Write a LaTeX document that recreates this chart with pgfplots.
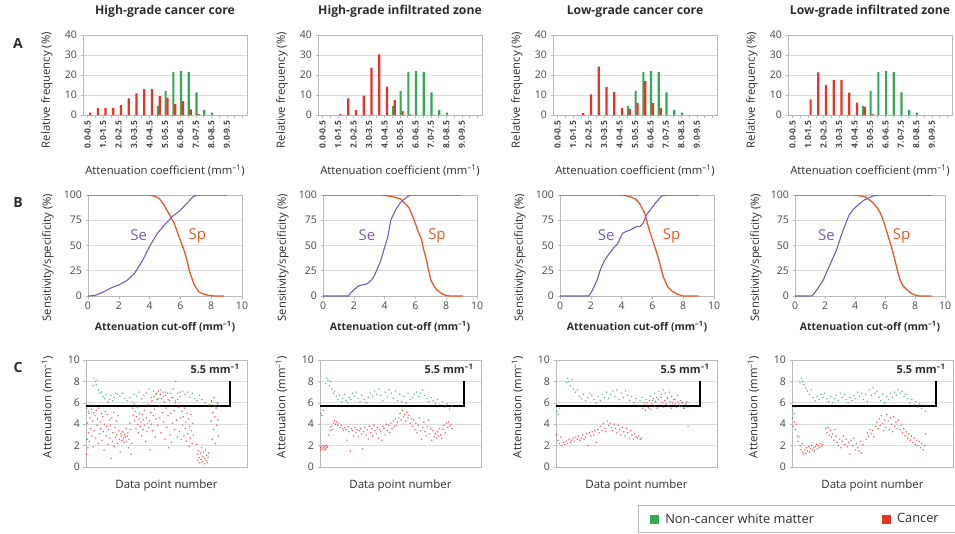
\documentclass[border=0pt]{standalone}
\usepackage{pgfplots}
\pgfplotsset{compat=1.18}
\usepackage{fontspec}
\setmainfont{Open Sans}
\definecolor{cgreen}{RGB}{52,168,83}
\definecolor{cred}{RGB}{232,50,40}
\definecolor{cse}{RGB}{118,92,190}
\definecolor{csp}{RGB}{232,88,40}
\definecolor{gridc}{RGB}{220,220,220}
\definecolor{framec}{RGB}{185,185,185}
\definecolor{tickc}{RGB}{70,70,70}
\definecolor{labc}{RGB}{45,45,45}
\pgfplotsset{
 base/.style={scale only axis, anchor=north west,
   /pgf/number format/assume math mode=true,
   axis line style={framec, line width=0.7pt},
   ymajorgrids, major grid style={gridc, line width=0.7pt},
   tick style={framec, line width=0.6pt}, tick align=outside, major tick length=2.5pt,
   xtick pos=bottom, ytick pos=left,
   tick label style={font=\fontsize{10.5}{11}\selectfont, color=tickc},
   label style={font=\fontsize{11.3}{12}\selectfont, color=labc},
   title style={font=\fontsize{12.2}{13}\selectfont\bfseries, color=labc}},
 rowA/.style={base, width=164pt, height=80pt, xmin=-0.6, xmax=20.6, ymin=0, ymax=40,
   ytick={0,10,20,30,40}, xtick={0,...,20},
   xticklabels={0.0-0.5,{},1.0-1.5,{},2.0-2.5,{},3.0-3.5,{},4.0-4.5,{},5.0-5.5,{},6.0-6.5,{},7.0-7.5,{},8.0-8.5,{},9.0-9.5,{},{}},
   xticklabel style={rotate=90, anchor=east, font=\fontsize{8.5}{9}\selectfont\bfseries},
   ylabel={Relative frequency (\%)},
   xlabel={Attenuation coefficient (mm\textsuperscript{–1})},
   ylabel style={at={(axis description cs:-0.22,0.31)}, anchor=center},
   xlabel style={at={(axis description cs:0.5,-0.69)}, anchor=center},
   title style={at={(axis description cs:0.5,1.225)}, anchor=center}},
 rowB/.style={base, width=154pt, height=101pt, xmin=0, xmax=10, ymin=0, ymax=100,
   ytick={0,25,50,75,100}, xtick={0,2,...,10},
   ylabel={Sensitivity/specificity (\%)},
   xlabel={\bfseries Attenuation cut-off (mm\textsuperscript{–1})},
   ylabel style={at={(axis description cs:-0.26,0.38)}, anchor=center},
   xlabel style={at={(axis description cs:0.5,-0.30)}, anchor=center, font=\fontsize{10.5}{11}\selectfont}},
 rowC/.style={base, width=161pt, height=107pt, xmin=0, xmax=100, ymin=0, ymax=10,
   ytick={0,2,...,10}, xtick=\empty,
   ylabel={Attenuation (mm\textsuperscript{–1})},
   xlabel={Data point number},
   ylabel style={at={(axis description cs:-0.24,0.56)}, anchor=center},
   xlabel style={at={(axis description cs:0.5,-0.17)}, anchor=center, font=\fontsize{11.5}{12}\selectfont}},
 gbar/.style={ybar, bar width=2.2pt, bar shift=0pt, fill=cgreen, draw=none},
 rbar/.style={ybar, bar width=2.2pt, bar shift=0pt, fill=cred, draw=none},
 seline/.style={cse, line width=1.1pt},
 spline/.style={csp, line width=1.3pt},
 gpts/.style={only marks, mark=*, mark size=0.85pt, cgreen, mark options={draw opacity=0, fill opacity=0.75}, forget plot},
 rpts/.style={only marks, mark=*, mark size=0.85pt, cred, mark options={draw opacity=0, fill opacity=0.75}, forget plot},
 cut/.style={black, line width=2.5pt, forget plot},
}
\newcommand{\greenbars}{\addplot[gbar] coordinates {(9.08,4.5) (10.08,12) (11.08,21.5) (12.08,22) (13.08,21.5) (14.08,11.3) (15.08,2.5) (16.08,1.2)};}
\newcommand{\cutlabel}{\node[anchor=east, font=\fontsize{11}{12}\selectfont\bfseries, color=labc] at (axis cs:97.5,9.2) {5.5 mm\textsuperscript{–1}};}
\newcommand{\sesp}[2]{\node[color=cse, font=\fontsize{15}{16}\selectfont] at (axis cs:#1,60) {Se};
\node[color=csp, font=\fontsize{15}{16}\selectfont] at (axis cs:#2,60) {Sp};}
\begin{document}
\begin{tikzpicture}
\useasboundingbox (0pt,0pt) rectangle (955pt,-533pt);
\node[font=\fontsize{14}{15}\selectfont\bfseries, color=labc] at (18pt,-43pt) {A};
\node[font=\fontsize{14}{15}\selectfont\bfseries, color=labc] at (18pt,-202pt) {B};
\node[font=\fontsize{14}{15}\selectfont\bfseries, color=labc] at (18pt,-367pt) {C};

% ---------------- Row A ----------------
\begin{axis}[rowA, at={(83pt,-35pt)}, title={High-grade cancer core}]
\greenbars
\addplot[rbar] coordinates {(0.32,1.2) (1.32,3.5) (2.32,3.5) (3.32,3.5) (4.32,5) (5.32,8.3) (6.32,10.8) (7.32,13) (8.32,13) (9.32,9.5) (10.32,8.7) (11.32,5.5) (12.32,7) (13.32,2.8) (14.32,0.5)};
\end{axis}
\begin{axis}[rowA, at={(318pt,-35pt)}, title={High-grade infiltrated zone}]
\greenbars
\addplot[rbar] coordinates {(2.32,0.5) (3.32,8.3) (4.32,2.5) (5.32,9.7) (6.32,23.7) (7.32,30.3) (8.32,14.2) (9.32,7.5) (10.32,2) (11.32,0.3)};
\end{axis}
\begin{axis}[rowA, at={(553pt,-35pt)}, title={Low-grade cancer core}]
\greenbars
\addplot[rbar] coordinates {(3.32,1) (4.32,10.3) (5.32,24.2) (6.32,14) (7.32,11.5) (8.32,3.5) (9.32,3) (10.32,6) (11.32,17) (12.32,6) (13.32,3.5)};
\end{axis}
\begin{axis}[rowA, at={(788pt,-35pt)}, title={Low-grade infiltrated zone}]
\greenbars
\addplot[rbar] coordinates {(2.32,7.8) (3.32,21.3) (4.32,15) (5.32,17.5) (6.32,17.5) (7.32,11.2) (8.32,6.2) (9.32,4.2) (10.32,0.5)};
\end{axis}

% ---------------- Row B ----------------
\begin{axis}[rowB, at={(88pt,-195pt)}]
\addplot[spline] coordinates {(0,100) (3.9,100) (4.3,99) (4.6,97) (4.9,91) (5.2,83) (5.6,72) (5.95,57) (6.2,47) (6.4,37) (6.6,24) (6.9,11) (7.2,4) (7.5,2) (7.8,0.7) (8.2,0) (8.8,0)};
\addplot[seline] coordinates {(0,0) (0.3,0.3) (0.5,0.8) (1.0,4) (1.5,8) (2.0,11) (2.5,15) (3.0,22) (3.5,34) (4.0,49) (4.5,62) (5.0,71) (5.5,79) (6.0,85) (6.5,93) (6.8,98) (7.1,100) (9,100)};
\sesp{3.3}{7.1}
\end{axis}
\begin{axis}[rowB, at={(323pt,-195pt)}]
\addplot[spline] coordinates {(0,100) (3.75,100) (4.3,99) (4.6,98) (5.05,96) (5.3,92) (5.6,87) (5.9,76) (6.15,65) (6.4,56) (6.55,45) (6.7,37) (6.85,26) (7.0,16) (7.2,10) (7.4,6) (7.7,2.5) (7.9,1) (8.2,0) (9.1,0)};
\addplot[seline] coordinates {(0,0) (1.65,0) (1.8,3) (2.0,6) (2.3,10) (2.85,12) (3.1,15) (3.3,19) (3.5,26) (3.75,35) (4.0,48) (4.2,58) (4.4,75) (4.7,85) (5.0,92) (5.2,95) (5.5,98.5) (5.7,100) (9,100)};
\sesp{2.85}{7.4}
\end{axis}
\begin{axis}[rowB, at={(560pt,-195pt)}]
\addplot[spline] coordinates {(0,100) (3.85,100) (4.3,99.3) (4.6,98) (4.9,96) (5.15,92) (5.5,82) (5.8,65) (6.15,49) (6.4,37) (6.7,19) (7.0,9) (7.3,4.5) (7.6,2) (8.0,0) (9,0)};
\addplot[seline] coordinates {(0,0) (1.87,0) (2.1,5.6) (2.4,15.5) (2.6,25) (2.85,34) (3.1,40) (3.3,44) (3.5,48) (3.75,52) (4.05,62) (4.3,64) (4.5,65) (4.95,68.5) (5.2,69) (5.4,72) (5.6,80) (5.95,87) (6.25,93) (6.6,99) (6.9,100) (9,100)};
\sesp{3.0}{7.25}
\end{axis}
\begin{axis}[rowB, at={(795pt,-195pt)}, width=150pt]
\addplot[spline] coordinates {(0,100) (3.85,100) (4.4,99) (4.7,98) (5.15,93) (5.45,88) (5.7,82) (5.95,72) (6.15,62) (6.4,50) (6.6,39) (6.8,27) (7.0,16) (7.2,10) (7.4,7) (7.7,3) (8.0,1) (8.3,0) (9.1,0)};
\addplot[seline] coordinates {(0,0) (1.1,0) (1.25,2) (1.43,5.6) (1.87,15.5) (2.3,30) (2.75,45) (3.2,65) (3.6,80) (3.9,86) (4.2,90) (4.6,95) (5.2,99) (5.6,100) (9.1,100)};
\sesp{2.1}{7.1}
\end{axis}

% ---------------- Row C ----------------
\begin{axis}[rowC, at={(86pt,-360pt)}]
\addplot[gpts] coordinates {(0.5,5.5) (1.5,5.2) (2.5,5.8) (4.5,7.6) (5.2,8.3) (5.8,8.0) (6.4,7.7) (7.0,8.1) (7.8,7.2) (8.6,6.9) (9.5,7.0) (10.5,6.6) (11.5,6.4) (12.5,6.8) (13.5,6.1) (14.5,6.3) (15.5,6.7) (16.5,6.2) (17.5,6.5) (18.5,6.9) (19.5,6.8) (21,6.6) (22.5,6.9) (24,6.4) (25.5,6.2) (27,6.5) (28.5,6.1) (30,6.8) (31.5,6.6) (33,7.0) (34.5,6.4) (36,6.7) (37.5,6.9) (39,7.3) (40.5,6.5) (42,7.1) (43.5,6.8) (45,6.4) (46.5,7.2) (48,6.6) (49.5,7.0) (51,6.3) (52.5,6.9) (54,6.5) (55.5,6.2) (57,6.9) (58.5,6.6) (60,7.1) (61.5,6.8) (63,7.0) (64.5,6.5) (66,6.9) (67.5,6.4) (69,6.2) (70.5,6.7) (72,6.3) (74,6.0) (76,5.8) (78,6.1) (80,5.7) (82,5.9)};
\addplot[rpts] coordinates {(0.3,1.2) (0.6,2.6) (0.9,4.1) (1.2,1.8) (1.5,3.2) (1.9,5.0) (2.2,2.4) (2.6,4.6) (3.0,3.6) (3.3,5.4) (3.7,2.9) (4.1,4.3) (4.5,1.9) (4.8,5.1)
(5.2,3.4) (5.6,4.8) (6.0,2.7) (6.4,5.3) (6.8,3.9) (7.2,4.5) (7.6,2.2) (8.0,5.5) (8.4,3.1) (8.8,4.2) (9.2,3.6) (9.6,5.0) (10.0,2.5) (10.4,4.7) (10.8,3.3) (11.2,1.6) (11.6,4.0) (12.0,5.2) (12.4,2.9) (12.8,3.8) (13.2,4.9) (13.6,2.1) (14.0,3.5) (14.4,4.4) (14.8,2.7)
(15.2,3.9) (15.6,0.8) (16.0,4.6) (16.4,2.4) (16.8,3.2) (17.2,5.1) (17.6,1.9) (18.0,3.7) (18.4,2.8) (18.8,4.3) (19.2,3.0) (19.6,2.2) (20.0,4.8) (20.4,3.4) (20.8,2.6) (21.2,1.4) (21.6,3.1) (22.0,2.9) (22.4,2.5) (22.8,3.3) (23.2,2.7) (23.6,2.3) (24.0,3.0) (24.4,2.8) (24.8,3.6) (25.2,2.4) (25.6,2.9) (26.0,3.2) (26.4,1.8) (26.8,2.6) (27.2,4.1) (27.6,3.5) (28.0,1.2) (28.4,2.2)
(29.0,5.5) (29.4,4.8) (29.8,5.9) (30.2,4.3) (30.6,5.2) (31.0,3.6) (31.4,4.7) (31.8,5.6) (32.2,4.0) (32.6,3.2) (33.0,4.5) (33.4,5.0) (33.8,3.8) (34.2,4.2) (34.6,2.9) (35.0,4.9) (35.4,3.5) (35.8,4.4) (36.2,5.3) (36.6,3.9) (37.0,2.4) (37.4,4.6) (37.8,3.3) (38.2,4.1) (38.6,5.8) (39.0,3.7) (39.4,4.3) (39.8,1.6) (40.2,5.1) (40.6,4.0) (41.0,6.2) (41.4,3.4) (41.8,4.8) (42.2,6.6) (42.6,5.4) (43.0,2.8) (43.4,4.5) (43.8,6.9)
(44.2,6.3) (44.6,3.9) (45.0,7.1) (45.4,5.7) (45.8,4.6) (46.2,6.8) (46.6,3.2) (47.0,6.4) (47.4,5.1) (47.8,7.0) (48.2,4.2) (48.6,6.1) (49.0,2.6) (49.4,6.7) (49.8,5.5) (50.2,3.7) (50.6,6.9) (51.0,4.8) (51.4,1.8) (51.8,6.2) (52.2,3.0) (52.6,5.0) (53.0,2.3) (53.4,6.5) (53.8,4.1) (54.2,7.3) (54.6,5.3) (55.0,3.5) (55.4,6.0) (55.8,8.0) (56.2,4.4) (56.6,2.8) (57.0,6.3) (57.4,5.6)
(58.0,3.3) (58.4,7.0) (58.8,4.6) (59.2,2.6) (59.6,5.2) (60.0,3.9) (60.4,4.7) (60.8,2.9) (61.2,5.5) (61.6,3.6) (62.0,4.2) (62.4,2.4) (62.8,5.0) (63.2,3.1) (63.6,4.5) (64.0,1.9) (64.4,3.8) (64.8,2.7) (65.2,4.9) (65.6,3.4) (66.0,2.2) (66.4,4.1) (66.8,3.0)
(68.6,2.1) (69.0,1.2) (69.4,0.6) (69.8,1.5) (70.2,0.9) (70.6,0.4) (71.0,1.3) (71.4,0.7) (71.8,1.8) (72.2,0.5) (72.6,1.0) (73.0,1.4) (73.4,0.3) (73.8,0.8) (74.2,1.6) (74.6,0.6) (75.0,1.1) (75.4,0.4) (75.8,0.9) (76.2,1.3)
(77.2,5.8) (77.6,4.3) (78.0,6.2) (78.4,2.6) (78.8,5.1) (79.2,3.5) (79.6,6.5) (80.0,4.7) (80.4,2.2) (80.8,5.5) (81.2,3.9) (81.6,6.0) (82.0,4.4) (82.4,2.9) (82.8,5.7)};
\addplot[cut] coordinates {(0,5.7) (89.5,5.7) (89.5,8.0)};
\cutlabel
\end{axis}
\begin{axis}[rowC, at={(320pt,-360pt)}]
\addplot[gpts] coordinates {(0.5,5.0) (1.2,4.8) (2.0,5.3) (3.5,7.8) (4.2,8.3) (5.0,8.1) (5.8,7.6) (6.6,8.0) (7.4,7.3) (8.3,6.9) (9.2,7.1) (10.2,6.6) (11.2,6.3) (12.2,6.7) (13.2,6.1) (14.2,6.4) (15.2,6.8) (16.2,6.2) (17.2,6.0) (18.2,6.5) (19.2,6.3) (20.2,6.9) (21.2,6.6) (22.2,7.0) (23.5,6.4) (24.8,6.1) (26.1,6.7) (27.4,6.3) (28.7,6.0) (30.0,6.5) (31.3,6.9) (32.6,6.6) (33.9,7.1) (35.2,6.8) (36.5,7.3) (37.8,6.7) (39.1,6.2) (40.4,7.0) (41.7,6.5) (43.0,7.2) (44.3,6.9) (45.6,6.4) (46.9,7.1) (48.2,6.2) (49.5,6.8) (50.8,6.1) (52.1,6.6) (53.4,6.0) (54.7,6.9) (56.0,6.3) (57.3,6.5) (58.6,6.8) (59.9,7.0) (61.2,6.6) (62.5,6.9) (63.8,7.2) (65.1,6.7) (66.4,6.4) (67.7,6.1) (69.0,6.5) (70.3,6.2) (71.6,5.9) (73.0,6.3) (74.5,5.8) (76.0,6.1) (77.5,5.6) (79.0,5.9) (80.5,5.4) (82.0,5.7)};
\addplot[rpts] coordinates {(0.3,1.8) (0.7,1.6) (1.1,1.9) (1.5,1.7) (1.9,2.0) (2.3,1.8) (2.7,1.6) (3.1,1.9) (3.5,1.7) (3.9,2.0) (4.3,1.8) (4.7,1.9)
(5.5,3.0) (6.2,3.4) (6.9,3.8) (7.6,3.5) (8.3,4.1) (9.0,4.3) (9.7,4.0) (10.4,4.2) (11.1,3.9) (11.8,4.1) (12.5,3.7) (13.2,3.9) (13.9,3.6) (14.6,3.4) (15.3,3.7)
(16.0,3.5) (16.7,2.5) (17.4,3.8) (18.1,3.3) (18.8,1.5) (19.5,3.6) (20.2,3.4) (20.9,2.9) (21.6,3.7) (22.3,3.2) (23.0,3.5) (23.7,2.8) (24.4,3.4) (25.1,3.6) (25.8,3.1) (26.5,1.7) (27.2,3.3) (27.9,3.7)
(28.6,3.0) (29.3,3.5) (30.0,2.6) (30.7,3.8) (31.4,3.2) (32.1,3.6) (32.8,2.9) (33.5,3.9) (34.2,3.4) (34.9,3.1) (35.6,3.7) (36.3,2.7) (37.0,3.5) (37.7,3.3) (38.4,2.5) (39.1,3.8) (39.8,3.6) (40.5,3.0) (41.2,4.0) (41.9,3.4) (42.6,3.9) (43.3,3.2) (44.0,4.1) (44.7,3.6) (45.4,4.3) (46.1,3.8) (46.8,4.5) (47.5,3.9) (48.2,4.2)
(49.0,4.6) (49.7,5.0) (50.4,4.4) (51.1,5.3) (51.8,4.7) (52.5,4.9) (53.2,4.3) (53.9,5.1) (54.6,4.6) (55.3,4.8) (56.0,4.1) (56.7,4.5)
(57.5,3.8) (58.2,4.4) (58.9,3.5) (59.6,4.1) (60.3,3.2) (61.0,3.9) (61.7,4.6) (62.4,3.4) (63.1,2.6) (63.8,3.7) (64.5,4.2) (65.2,3.3) (65.9,2.9) (66.6,3.8) (67.3,4.4) (68.0,3.1) (68.7,3.6) (69.4,2.5) (70.1,3.4)
(70.8,2.8) (71.5,3.1) (72.2,2.7) (72.9,3.3) (73.6,2.9) (74.3,3.6) (75.0,3.0) (75.7,2.7) (76.4,3.5) (77.1,3.9) (77.8,3.2) (78.5,4.1) (79.2,3.7) (79.9,4.2) (80.6,3.8) (81.3,4.0) (82.0,3.6)};
\addplot[cut] coordinates {(0,5.7) (89.5,5.7) (89.5,8.0)};
\cutlabel
\end{axis}
\begin{axis}[rowC, at={(556pt,-360pt)}]
\addplot[gpts] coordinates {(0.5,5.2) (1.3,4.9) (2.2,5.5) (6.5,7.9) (7.3,8.3) (8.1,8.0) (9.0,7.6) (9.8,8.2) (10.8,7.3) (12.0,7.0) (13.2,7.2) (14.5,6.6) (15.8,6.4) (17.1,6.8) (18.4,6.2) (19.7,6.5) (21.0,6.9) (22.3,6.7) (23.6,6.3) (24.9,6.0) (26.2,6.6) (27.5,6.2) (28.8,6.8) (30.1,6.5) (31.4,7.0) (32.7,6.4) (34.0,6.8) (35.3,7.1) (36.6,6.6) (37.9,7.2) (39.2,6.3) (40.5,6.9) (41.8,6.5) (43.1,7.1) (44.4,6.7) (45.7,6.2) (47.0,6.6) (48.3,6.0) (49.6,6.4) (50.9,5.8) (52.2,6.2) (53.5,6.5) (54.8,6.0) (56.1,6.3) (57.4,5.5) (58.7,6.6) (60.0,6.2) (61.3,6.9) (62.6,6.5) (63.9,7.1) (65.2,6.8) (66.5,7.2) (67.8,6.9) (69.1,6.5) (70.4,7.0) (71.7,6.6) (73.0,6.3) (74.3,5.9) (75.6,6.1) (76.9,5.7) (78.2,6.0) (79.5,5.5) (80.8,5.9) (82.0,3.8)};
\addplot[rpts] coordinates {(0.4,3.0) (1.3,2.5) (2.1,2.2) (3.0,2.8) (3.8,2.0) (4.7,2.3) (5.5,2.1) (6.4,2.4) (7.2,2.2) (8.1,2.6) (8.9,2.3) (9.8,2.5) (10.6,2.7) (11.5,2.4) (12.3,2.8) (13.2,2.6) (14.0,2.9) (14.9,2.5) (15.7,2.7) (16.6,3.0) (17.4,2.6) (18.3,2.8) (19.1,3.1) (20.0,2.0) (20.8,3.2) (21.7,2.9) (22.5,3.3) (23.4,3.0) (24.2,3.4) (25.1,2.3) (25.9,3.5) (26.8,3.2) (27.6,3.8) (28.5,3.4) (29.3,4.1) (30.2,3.6) (31.0,3.3) (31.9,4.3) (32.7,3.9) (33.6,4.1) (34.4,3.7) (35.3,3.4) (36.1,4.0) (37.0,3.6) (37.8,3.2) (38.7,3.9) (39.5,3.5) (40.4,3.0) (41.2,3.7) (42.1,3.3) (42.9,2.9) (43.8,3.6) (44.6,3.2) (45.5,2.7) (46.3,3.4) (47.2,3.0) (48.0,2.6) (48.9,3.1) (49.7,2.8) (50.6,2.7) (51.4,2.9) (52.3,2.6) (53.1,2.7)
(54.0,5.5) (54.8,5.8) (55.6,5.3) (56.4,6.0) (57.2,5.6) (58.0,6.2) (58.8,5.4) (59.6,5.9) (60.4,6.4) (61.2,5.7) (62.0,6.1) (62.8,5.5) (63.6,6.3) (64.4,5.8) (65.2,6.5) (66.0,6.0) (66.8,5.6) (67.6,6.2) (68.4,5.9) (69.2,6.4) (70.0,5.7) (70.8,6.1) (71.6,5.5) (72.4,6.0) (73.2,5.8) (74.0,6.3) (74.8,5.6) (75.6,6.7) (76.4,5.9) (77.2,6.2) (78.0,5.7) (78.8,6.0) (79.6,5.5) (80.4,5.8) (81.2,6.1) (82.0,5.6)};
\addplot[cut] coordinates {(0,5.7) (89.5,5.7) (89.5,8.0)};
\cutlabel
\end{axis}
\begin{axis}[rowC, at={(792pt,-360pt)},
  legend columns=2,
  legend image code/.code={\fill[#1, draw=none] (0pt,-4.5pt) rectangle (9pt,4.5pt);},
  legend style={at={(axis description cs:-0.957,-0.355)}, anchor=north west,
    draw=framec, line width=0.8pt, inner xsep=12pt, inner ysep=6pt,
    font=\fontsize{12.8}{14}\selectfont, text=labc,
    /tikz/every odd column/.append style={column sep=4pt},
    /tikz/every even column/.append style={column sep=66pt}},
  legend cell align=left]
\addplot[gpts] coordinates {(0.4,5.3) (1.2,5.0) (2.0,5.6) (5.0,7.9) (5.8,8.3) (6.6,8.0) (7.4,7.7) (8.4,7.4) (9.6,7.1) (10.8,6.8) (12.0,7.2) (13.2,6.5) (14.4,6.2) (15.6,6.6) (16.8,6.3) (18.0,6.8) (19.2,6.5) (20.4,6.9) (21.6,6.4) (22.8,6.1) (24.0,6.6) (25.2,6.0) (26.4,6.4) (27.6,6.7) (28.8,6.2) (30.0,6.9) (31.2,6.5) (32.4,6.8) (33.6,6.3) (34.8,6.0) (36.0,6.5) (37.2,6.2) (38.4,6.7) (39.6,6.4) (40.8,7.0) (42.0,6.6) (43.2,6.9) (44.4,6.3) (45.6,6.8) (46.8,6.1) (48.0,7.2) (49.2,6.7) (50.4,7.4) (51.6,6.9) (52.8,7.1) (54.0,6.5) (55.2,6.2) (56.4,6.8) (57.6,6.0) (58.8,6.6) (60.0,6.3) (61.2,6.9) (62.4,6.5) (63.6,7.0) (64.8,6.7) (66.0,7.2) (67.2,6.9) (68.4,7.1) (69.6,6.6) (70.8,6.8) (72.0,6.4) (73.2,6.0) (74.4,6.3) (75.6,5.8) (76.8,6.1) (78.0,5.6) (79.2,5.9) (80.4,5.5) (81.6,5.8) (82.8,5.2)};
\addplot[rpts] coordinates {(0.3,4.6) (0.8,3.8) (1.4,4.2) (2.0,3.5) (2.6,4.0) (3.2,2.9) (3.8,2.4) (4.4,2.8) (5.0,2.0) (5.6,1.6) (6.2,2.2) (6.8,1.4) (7.4,1.2) (8.0,1.6) (8.6,1.3) (9.2,1.8) (9.8,1.5) (10.4,1.9) (11.0,1.4) (11.6,1.7) (12.2,2.0) (12.8,1.6) (13.4,1.8) (14.0,1.5) (14.6,1.9) (15.2,2.1) (15.8,1.7) (16.4,2.0) (17.0,1.8) (17.6,2.2) (18.2,1.9) (18.8,2.1)
(21.0,3.6) (21.7,3.2) (22.4,3.7) (23.1,3.0) (23.8,3.4) (24.5,2.8) (25.2,3.1) (25.9,2.5) (26.6,3.5) (27.3,2.9) (28.0,2.3)
(28.8,2.0) (29.6,2.6) (30.4,1.8) (31.2,2.4) (32.0,2.9) (32.8,2.1) (33.6,2.6) (34.4,1.9) (35.2,2.3) (36.0,1.2) (36.8,2.5) (37.6,2.0) (38.4,2.7) (39.2,1.6) (40.0,2.2) (40.8,1.8) (41.6,1.5) (42.4,2.4) (43.2,1.3) (44.0,2.1)
(46.0,2.6) (46.8,3.2) (47.6,2.9) (48.4,3.5) (49.2,3.1) (50.0,3.4) (50.8,2.8)
(52.0,3.8) (52.7,4.2) (53.4,3.6) (54.1,4.5) (54.8,3.9) (55.5,4.8) (56.2,4.1) (56.9,3.4) (57.6,4.4) (58.3,3.7) (59.0,4.9) (59.7,4.3) (60.4,3.5) (61.1,4.6) (61.8,4.0) (62.5,3.3) (63.2,4.7) (63.9,3.8) (64.6,4.2) (65.3,3.6) (66.0,4.4)
(67.0,3.5) (67.8,3.9) (68.6,3.2) (69.4,3.6) (70.2,2.9) (71.0,3.3) (71.8,2.7) (72.6,3.1) (73.4,2.5) (74.2,2.9) (75.0,2.3) (75.8,2.7) (76.6,2.1) (77.4,2.5) (78.2,2.0) (79.0,2.4) (79.8,1.8) (80.6,2.2) (81.4,1.6) (82.2,2.0) (83.0,3.1)};
\addplot[cut] coordinates {(0,5.7) (89.5,5.7) (89.5,8.0)};
\cutlabel
\addlegendimage{fill=cgreen}
\addlegendentry{Non-cancer white matter}
\addlegendimage{fill=cred}
\addlegendentry{Cancer\hspace*{40pt}}
\end{axis}
\end{tikzpicture}
\end{document}
